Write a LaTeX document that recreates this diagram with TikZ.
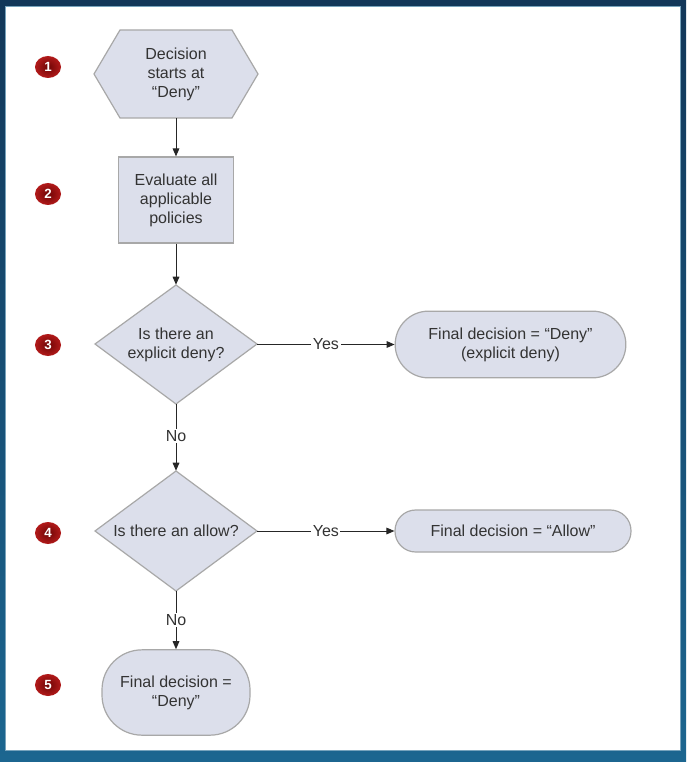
\documentclass[tikz,border=0pt]{standalone}
\usepackage{fontspec}
\setmainfont{Liberation Sans}
\usetikzlibrary{arrows.meta,shapes.geometric}
\definecolor{shapefill}{HTML}{DCDFEB}
\definecolor{shapeline}{HTML}{A8A8A8}
\definecolor{frameA}{HTML}{123759}
\definecolor{frameB}{HTML}{1C6690}
\definecolor{badgein}{HTML}{6E0505}
\definecolor{badgeout}{HTML}{B21A1A}
\definecolor{textcol}{HTML}{333333}
\begin{document}
\begin{tikzpicture}[x=0.75pt,y=-0.75pt,
  shapeln/.style={draw=shapeline, fill=shapefill, line width=0.9pt},
  txt/.style={align=center, inner sep=0pt, font=\fontsize{12}{14.25}\selectfont, text=textcol},
  box/.style={shapeln, align=center, inner sep=0pt, font=\fontsize{12}{14.25}\selectfont, text=textcol},
  conn/.style={-{Triangle[length=6pt,width=5pt]}, line width=0.75pt, draw=black!85},
  lbl/.style={fill=white, inner sep=1.2pt, font=\fontsize{12}{13}\selectfont, text=textcol},
  num/.style={ellipse, inner color=badgein, outer color=badgeout, text=white, font=\bfseries\fontsize{10}{10}\selectfont, minimum width=19.5pt, minimum height=16.5pt, inner sep=0pt}]
% frame
\useasboundingbox (0,0) rectangle (686,762);
\shade[top color=frameA, bottom color=frameB] (0,0) rectangle (686,762);
\fill[white] (5,6) rectangle (680,750);
\draw[frameB!60!white, line width=0.6pt] (5,6) rectangle (680,750);
% 1 hexagon
\draw[shapeln] (94,74) -- (120,30) -- (232,30) -- (258,74) -- (232,118) -- (120,118) -- cycle;
\node[txt, minimum width=123pt, minimum height=66pt] (start) at (176,74) {Decision\\starts at\\“Deny”};
% 2 rectangle
\node[box, minimum width=86.5pt, minimum height=64.5pt] (eval) at (176,200) {Evaluate all\\applicable\\policies};
% 3 diamond
\draw[shapeln] (95,344) -- (176,285) -- (257,344) -- (176,404) -- cycle;
\node[txt, minimum width=121.5pt, minimum height=89.25pt] (deny) at (176,344.5) {Is there an\\explicit deny?};
\node[box, rounded corners=25pt, minimum width=173pt, minimum height=50pt] (fdeny) at (510.5,344.5) {Final decision = “Deny”\\(explicit deny)};
% 4 diamond
\draw[shapeln] (95,531) -- (176,471) -- (257,531) -- (176,591) -- cycle;
\node[txt, minimum width=121.5pt, minimum height=90pt] (allow) at (176,531) {Is there an allow?};
\node[box, rounded corners=15.5pt, minimum width=177pt, minimum height=31.5pt] (fallow) at (513,531) {Final decision = “Allow”};
% 5 pill
\node[box, rounded corners=30pt, minimum width=111pt, minimum height=64pt] (fdefault) at (176,692.5) {Final decision =\\“Deny”};
% connectors
\draw[conn] (start.south) -- (eval.north);
\draw[conn] (eval.south) -- (deny.north);
\draw[conn] (deny.east) -- node[lbl] {Yes} (fdeny.west);
\draw[conn] (deny.south) -- node[lbl, pos=0.48] {No} (allow.north);
\draw[conn] (allow.east) -- node[lbl] {Yes} (fallow.west);
\draw[conn] (allow.south) -- node[lbl, pos=0.5] {No} (fdefault.north);
% badges
\node[num] (b1) at (48,67) {1};
\node[num] (b2) at (48,194) {2};
\node[num] (b3) at (48,345) {3};
\node[num] (b4) at (48,533) {4};
\node[num] (b5) at (48,685) {5};
\end{tikzpicture}
\end{document}
